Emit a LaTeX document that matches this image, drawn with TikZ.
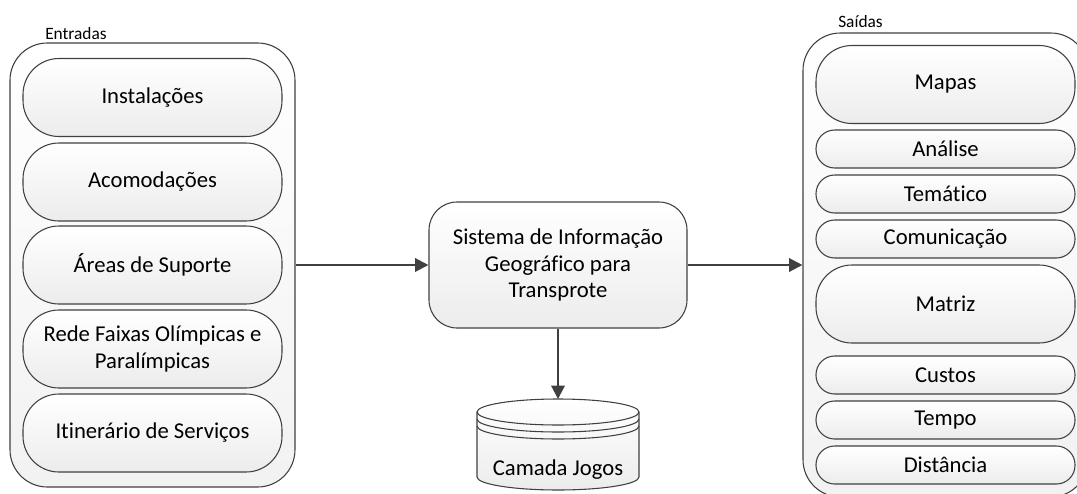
\documentclass[tikz,border=0pt]{standalone}
\usepackage{fontspec}
\setmainfont{Carlito}[RawFeature={-liga}]
\usepackage{tikz}
\usetikzlibrary{arrows.meta}

\definecolor{lineGray}{HTML}{404040}
\definecolor{fillGray}{HTML}{ECECEC}

\tikzset{
  box/.style={draw=lineGray, line width=0.8pt, top color=white, bottom color=fillGray,
    font=\fontsize{17}{20}\selectfont, align=center, inner sep=0pt},
  bigpill/.style={box, rounded corners=27pt, minimum width=194.25pt, minimum height=58.5pt},
  smallpill/.style={box, rounded corners=14pt, minimum width=194.25pt, minimum height=28.5pt},
  group/.style={draw=lineGray, line width=0.8pt, top color=white, bottom color=fillGray!70,
    rounded corners=28pt, minimum width=213.75pt, inner sep=0pt},
  grouplabel/.style={font=\fontsize{13}{15}\selectfont, anchor=base west, inner sep=0pt},
  flow/.style={draw=lineGray, line width=1.6pt, -{Triangle[length=10pt,width=10pt]}}
}

\begin{document}
\begin{tikzpicture}[x=0.75pt,y=-0.75pt]
\useasboundingbox (0,0) rectangle (1077,493);
\clip (0,0) rectangle (1077,493);

\node[group, minimum height=333pt] (entradas) at (152.5,265) {};
\node[grouplabel] (entradasLbl) at (45,39) {Entradas};
\node[bigpill] (instalacoes) at (152.5,97.5) {Instalações};
\node[bigpill] (acomodacoes) at (152.5,182) {Acomodações};
\node[bigpill] (areas) at (152.5,265) {Áreas de Suporte};
\node[bigpill] (rede) at (152.5,349) {Rede Faixas Olímpicas e\\Paralímpicas};
\node[bigpill] (itinerario) at (152.5,433) {Itinerário de Serviços};

\node[group, minimum height=348pt] (saidas) at (945.5,265) {};
\node[grouplabel] (saidasLbl) at (838,27) {Saídas};
\node[bigpill] (mapas) at (945.5,84.5) {Mapas};
\node[smallpill] (analise) at (945.5,149) {Análise};
\node[smallpill] (tematico) at (945.5,194) {Temático};
\node[smallpill] (comunicacao) at (945.5,239) {Comunicação};
\node[bigpill] (matriz) at (945.5,304) {Matriz};
\node[smallpill] (custos) at (945.5,375) {Custos};
\node[smallpill] (tempo) at (945.5,420) {Tempo};
\node[smallpill] (distancia) at (945.5,465) {Distância};

\node[box, rounded corners=21pt, minimum width=193.5pt, minimum height=94.5pt] (sig) at (558,265)
  {Sistema de Informação\\Geográfico para\\Transprote};

% camada
\draw[draw=lineGray, line width=0.8pt, top color=white, bottom color=fillGray]
  (477,412) -- (477,477) arc[start angle=180, end angle=0, x radius=81, y radius=13]
  -- (639,412) arc[start angle=360, end angle=180, x radius=81, y radius=13] -- cycle;
\foreach \dy in {0,7,14}
  \draw[lineGray, line width=0.8pt] (477,412+\dy) arc[start angle=180, end angle=0, x radius=81, y radius=13];
\coordinate (camadaTop) at (558,399);
\node[font=\fontsize{17}{20}\selectfont, inner sep=0pt] (camada) at (558,470) {Camada Jogos};

\draw[flow] (entradas.east) -- (sig.west);
\draw[flow] (sig.east) -- (saidas.west);
\draw[flow] (sig.south) -- (camadaTop);

\end{tikzpicture}
\end{document}
